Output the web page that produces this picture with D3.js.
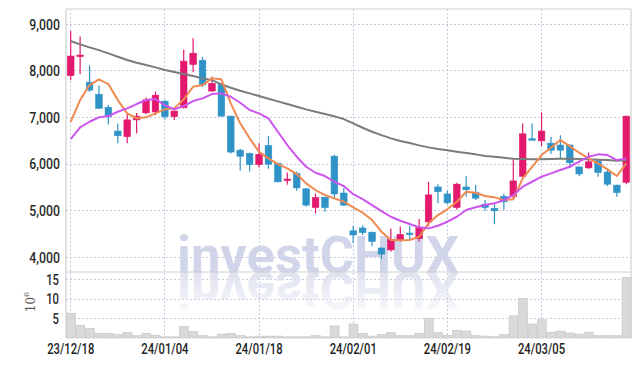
<!DOCTYPE html>
<html>
<head>
<meta charset="utf-8">
<script src="https://cdn.jsdelivr.net/npm/d3@7"></script>
<style>
  html, body { margin: 0; padding: 0; background: #fff; }
  #chart text { font-family: Roboto, "Liberation Sans", sans-serif; }
</style>
</head>
<body>
<div id="chart"></div>
<script>
const width = 639, height = 366;

// trading days, 23/12/18 .. 24/03/18
const dates = [
  "23/12/18","23/12/19","23/12/20","23/12/21","23/12/22","23/12/26","23/12/27","23/12/28",
  "24/01/02","24/01/03","24/01/04","24/01/05","24/01/08","24/01/09","24/01/10","24/01/11","24/01/12",
  "24/01/15","24/01/16","24/01/17","24/01/18","24/01/19","24/01/22","24/01/23","24/01/24","24/01/25",
  "24/01/26","24/01/29","24/01/30","24/01/31","24/02/01","24/02/02","24/02/05","24/02/06","24/02/07",
  "24/02/08","24/02/13","24/02/14","24/02/15","24/02/16","24/02/19","24/02/20","24/02/21","24/02/22",
  "24/02/23","24/02/26","24/02/27","24/02/28","24/02/29","24/03/04","24/03/05","24/03/06","24/03/07",
  "24/03/08","24/03/11","24/03/12","24/03/13","24/03/14","24/03/15","24/03/18"
];
const open  = [7900,8310,7760,7500,7220,6710,6590,6950,7100,7120,7350,7020,7210,8140,8230,7570,7710,7030,6300,6230,
               5990,6400,6020,5660,5800,5470,5070,5290,6170,5380,4570,4630,4540,4200,4160,4370,4520,4400,4760,5510,
               5360,5070,5510,5390,5140,5050,5310,5300,5740,6545,6500,6450,6410,6410,5940,5920,6070,5830,5550,5610];
const high  = [8860,8740,8120,7690,7270,6870,7090,7100,7430,7560,7380,7150,8460,8700,8300,7880,7730,7040,6330,6250,
               6450,6600,6030,5820,5840,5480,5370,5300,6200,5490,4670,4690,4550,4210,4620,4660,4680,4820,5620,5570,
               5430,5600,5740,5550,5230,5140,5360,6120,6880,6880,7110,6580,6620,6420,5950,6250,6080,5910,5560,7040];
const low   = [7800,7930,7550,7190,6850,6450,6450,6660,7070,7050,6960,6950,7200,7970,7660,7550,7020,6230,5860,5840,
               5930,5900,5610,5560,5430,5090,4940,4980,5250,5100,4310,4480,4240,3960,4120,4340,4370,4340,4670,5160,
               5140,5020,5300,5230,5000,4710,5020,5270,5720,6530,6390,6220,6120,5910,5740,5900,5730,5530,5300,5570];
const close = [8320,8340,7590,7200,7020,6610,6950,7030,7380,7480,7020,7140,8210,8380,7700,7730,7030,6260,6170,5990,
               6210,6000,5620,5680,5490,5120,5280,5070,5360,5120,4480,4530,4340,4070,4380,4490,4500,4640,5340,5410,
               5170,5570,5450,5270,5070,5000,5190,5640,6650,6535,6710,6300,6300,6030,5790,6050,5820,5570,5390,7030];
// volume, millions of shares
const volume = [6.4,3.3,2.5,1.2,1.2,0.9,1.4,0.6,1.2,0.7,0.3,0.3,3.0,1.7,0.6,0.3,1.0,1.2,0.6,0.3,
                0.5,0.5,0.5,0.3,0.3,0.3,0.6,0.3,3.1,0.3,3.6,1.2,0.5,0.9,1.4,0.6,0.6,1.2,5.1,1.4,
                0.7,2.0,1.8,0.6,0.5,0.3,0.9,5.7,10.2,3.6,4.7,1.5,1.8,1.3,1.0,1.5,0.6,0.6,0.6,15.6];
// moving averages as drawn
const maShort = [6910,7375,7697,7820,7719,7375,7090,6983,7004,7090,7176,7197,7390,7661,7697,7841,7820,7305,6876,6554,
                 6266,6124,6002,5910,5787,5588,5444,5337,5266,5193,5070,4957,4800,4549,4371,4364,4371,4442,4729,4907,
                 5030,5193,5408,5386,5315,5287,5230,5244,5693,5944,6195,6352,6517,6388,6245,6124,6017,5888,5745,6017];
const maMid   = [6539,6790,6910,7004,7032,7125,7197,7290,7375,7397,7268,7176,7247,7354,7412,7504,7519,7447,7318,7161,
                 7090,6983,6696,6410,6159,5944,5815,5745,5622,5530,5355,5251,5122,4993,4871,4785,4714,4643,4622,4678,
                 4764,4871,5015,5073,5122,5159,5230,5337,5515,5622,5730,5802,5873,5944,6052,6159,6210,6195,6088,6124];
const maLong  = [8642,8571,8506,8448,8378,8305,8234,8176,8127,8077,8019,7976,7933,7890,7841,7805,7712,7640,7575,7519,
                 7461,7404,7348,7290,7232,7176,7125,7075,7026,6968,6876,6781,6696,6624,6553,6496,6453,6403,6360,6324,
                 6296,6266,6238,6210,6174,6159,6138,6116,6110,6103,6103,6110,6116,6116,6110,6103,6095,6088,6074,6088];
const priceTicks = [4000, 5000, 6000, 7000, 8000, 9000];
const volTicks = [5, 10, 15];
const dateTicks = ["23/12/18","24/01/04","24/01/18","24/02/01","24/02/19","24/03/05"];

const plotLeft = 66, plotRight = 631, plotTop = 9, split = 272, plotBottom = 338;
const upColor = "#e2196d", downColor = "#2f93c8";
const gridColor = "#c6cadf";

const svg = d3.select("#chart").append("svg")
  .attr("width", width).attr("height", height);

const x = d3.scaleBand().domain(dates).range([plotLeft, plotRight]);
const cx = d => x(d) + x.bandwidth() / 2;
const y = d3.scaleLinear().domain([3685, 9330]).range([split, plotTop]);
const yv = d3.scaleLinear().domain([0, 17]).range([plotBottom, split]);

// squeeze axis labels to look like the narrow face of the original
function condense(sel, factor) {
  sel.each(function() {
    const w = this.getComputedTextLength();
    d3.select(this).attr("textLength", w * factor).attr("lengthAdjust", "spacingAndGlyphs");
  });
}

/* grid */
const grid = svg.append("g");
grid.selectAll(".hp").data(priceTicks).join("line").attr("class", "hp")
  .attr("x1", plotLeft).attr("x2", plotRight)
  .attr("y1", d => y(d)).attr("y2", d => y(d));
grid.selectAll(".hv").data(volTicks).join("line").attr("class", "hv")
  .attr("x1", plotLeft).attr("x2", plotRight)
  .attr("y1", d => yv(d)).attr("y2", d => yv(d));
grid.selectAll(".vx").data(dateTicks).join("line").attr("class", "vx")
  .attr("x1", d => cx(d)).attr("x2", d => cx(d))
  .attr("y1", plotTop).attr("y2", plotBottom);
grid.selectAll("line")
  .attr("stroke", gridColor).attr("stroke-width", 1)
  .attr("stroke-dasharray", "1.5,2.5").attr("shape-rendering", "crispEdges");

/* watermark + reflection */
const defs = svg.append("defs");
const grad = defs.append("linearGradient").attr("id", "fade")
  .attr("gradientUnits", "userSpaceOnUse")
  .attr("x1", 0).attr("y1", split - 40).attr("x2", 0).attr("y2", split + 1);
grad.append("stop").attr("offset", "0%").attr("stop-color", "#dfe2ef").attr("stop-opacity", 0.2);
grad.append("stop").attr("offset", "100%").attr("stop-color", "#dfe2ef").attr("stop-opacity", 1);
defs.append("clipPath").attr("id", "volclip").append("rect")
  .attr("x", plotLeft).attr("y", split).attr("width", plotRight - plotLeft).attr("height", plotBottom - split);

const wm = svg.append("g")
  .style("font-family", "'Liberation Sans', Arial, sans-serif")
  .style("font-weight", "bold").style("font-size", "52px");
wm.append("text")
  .attr("x", 177).attr("y", split + 1)
  .attr("textLength", 282).attr("lengthAdjust", "spacingAndGlyphs")
  .attr("fill", "#d1d5e9")
  .text("investCHUX");
wm.append("g").attr("clip-path", "url(#volclip)")
  .append("g").attr("transform", `translate(0,${2 * split + 1}) scale(1,-1)`)
  .append("text")
  .attr("x", 177).attr("y", split + 1)
  .attr("textLength", 282).attr("lengthAdjust", "spacingAndGlyphs")
  .attr("fill", "url(#fade)")
  .text("investCHUX");

/* volume */
svg.append("g").selectAll("rect").data(volume).join("rect")
  .attr("x", (d, i) => x(dates[i]) + 0.5)
  .attr("width", x.bandwidth() - 0.5)
  .attr("y", d => yv(d))
  .attr("height", d => plotBottom - yv(d))
  .attr("fill", "#d9d9d9").attr("stroke", "#c4c4c4").attr("stroke-width", 0.6);

/* candles */
const candles = svg.append("g").selectAll("g").data(dates).join("g")
  .attr("stroke", (d, i) => close[i] >= open[i] ? upColor : downColor)
  .attr("fill", (d, i) => close[i] >= open[i] ? upColor : downColor);
candles.append("line")
  .attr("x1", d => cx(d)).attr("x2", d => cx(d))
  .attr("y1", (d, i) => y(high[i])).attr("y2", (d, i) => y(low[i]))
  .attr("stroke-width", 1.2);
const bw = x.bandwidth() * 0.7;
candles.append("rect")
  .attr("x", d => cx(d) - bw / 2).attr("width", bw)
  .attr("y", (d, i) => y(Math.max(open[i], close[i])))
  .attr("height", (d, i) => Math.max(1.5, Math.abs(y(open[i]) - y(close[i]))))
  .attr("stroke-width", 0.6);

/* moving averages */
const line = d3.line().x((d, i) => cx(dates[i])).y(d => y(d));
[[maLong, "#7b7b7b"], [maShort, "#ef8a50"], [maMid, "#cc55ee"]].forEach(([s, c]) => {
  svg.append("path").datum(s).attr("d", line)
    .attr("fill", "none").attr("stroke", c).attr("stroke-width", 2)
    .attr("stroke-linejoin", "round");
});

/* frame */
const frame = svg.append("g").attr("stroke", "#cfcfcf").attr("stroke-width", 1.2);
frame.append("line").attr("x1", plotLeft).attr("x2", plotRight).attr("y1", plotTop).attr("y2", plotTop);
frame.append("line").attr("x1", plotLeft).attr("x2", plotLeft).attr("y1", plotTop).attr("y2", plotBottom);
frame.append("line").attr("x1", plotRight).attr("x2", plotRight).attr("y1", plotTop).attr("y2", plotBottom);
frame.append("line").attr("x1", plotLeft).attr("x2", plotRight).attr("y1", split).attr("y2", split);

/* axes */
const yAxis = d3.axisLeft(y).tickValues(priceTicks).tickSize(0).tickPadding(6)
  .tickFormat(d3.format(","));
svg.append("g").attr("transform", `translate(${plotLeft},0)`).call(yAxis)
  .call(g => g.select(".domain").remove())
  .selectAll("text").attr("fill", "#2a2a2a").style("font-size", "15px").style("font-weight", 500)
  .call(condense, 0.82);

const vAxis = d3.axisLeft(yv).tickValues(volTicks).tickSize(0).tickPadding(7);
svg.append("g").attr("transform", `translate(${plotLeft},0)`).call(vAxis)
  .call(g => g.select(".domain").remove())
  .selectAll("text").attr("fill", "#2a2a2a").style("font-size", "15px").style("font-weight", 500)
  .call(condense, 0.75);

const xAxis = d3.axisBottom(x).tickValues(dateTicks).tickSize(0).tickPadding(5);
svg.append("g").attr("transform", `translate(0,${plotBottom})`).call(xAxis)
  .call(g => g.select(".domain").remove())
  .selectAll("text").attr("fill", "#1e1e1e").style("font-size", "15px").style("font-weight", 500)
  .call(condense, 0.75);

const unit = svg.append("text")
  .attr("transform", `translate(35,302) rotate(-90)`)
  .attr("text-anchor", "middle").attr("fill", "#555")
  .style("font-family", "'DejaVu Serif', serif").style("font-size", "12px");
unit.append("tspan").text("10");
unit.append("tspan").attr("dy", -6).style("font-size", "8px").text("6");
</script>
</body>
</html>
